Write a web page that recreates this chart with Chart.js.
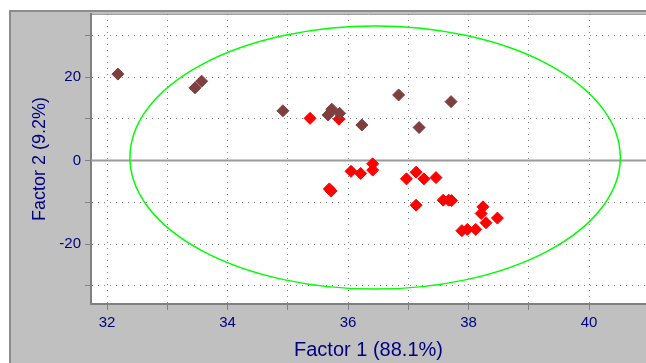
<!DOCTYPE html>
<html>
<head>
<meta charset="utf-8">
<script src="https://cdn.jsdelivr.net/npm/chart.js@4/dist/chart.umd.min.js"></script>
<style>
  html, body { margin: 0; padding: 0; background: #fff; }
  canvas { display: block; }
</style>
</head>
<body>
<canvas id="scores" width="646" height="363"></canvas>
<script>
// scores
const brownFactor1 = [32.18, 33.46, 33.57, 34.92, 35.67, 35.73, 35.86, 36.23, 36.84, 37.18, 37.71];
const brownFactor2 = [20.7, 17.4, 19.0, 11.9, 10.9, 12.3, 11.3, 8.5, 15.7, 7.9, 14.1];

const redFactor1 = [35.37, 35.85, 36.05, 36.21, 36.41, 36.41, 35.69, 35.72, 36.97, 37.13, 37.26, 37.46,
  37.13, 37.58, 37.67, 37.72, 38.24, 38.21, 38.29, 38.48, 37.89, 37.98, 38.12];
const redFactor2 = [10.1, 9.9, -2.6, -3.1, -0.8, -2.3, -6.8, -7.3, -4.4, -2.8, -4.4, -4.1,
  -10.7, -9.5, -9.5, -9.6, -11.1, -12.7, -14.9, -13.8, -16.8, -16.5, -16.5];

// confidence ellipse: centre and half axes in data units
const ellipseCenter = [36.45, 0.7];
const ellipseRadius = [4.07, 31.5];

const xTitle = "Factor 1 (88.1%)";
const yTitle = "Factor 2 (9.2%)";

const navy = "#000080";
const fontFamily = "'Liberation Sans', Arial, sans-serif";

function toPoints(xs, ys) {
  return xs.map((x, i) => ({ x: x, y: ys[i] }));
}

const framePlugin = {
  id: "frame",
  beforeDraw(chart) {
    const ctx = chart.ctx;
    const a = chart.chartArea;
    ctx.save();
    ctx.fillStyle = "#ffffff";
    ctx.fillRect(0, 0, chart.width, chart.height);
    ctx.fillStyle = "#c0c0c0";
    ctx.fillRect(10, 11, chart.width - 10, chart.height - 11);
    ctx.strokeStyle = "#8c8c8c";
    ctx.lineWidth = 2;
    ctx.beginPath();
    ctx.moveTo(10, chart.height);
    ctx.lineTo(10, 11);
    ctx.lineTo(chart.width, 11);
    ctx.stroke();
    ctx.fillStyle = "#ffffff";
    ctx.fillRect(a.left, a.top, a.right - a.left, a.bottom - a.top);
    ctx.strokeStyle = "#a0a0a0";
    ctx.lineWidth = 1;
    ctx.beginPath();
    ctx.moveTo(a.left, a.top + 0.5);
    ctx.lineTo(a.right, a.top + 0.5);
    ctx.stroke();
    ctx.restore();
  },
  beforeDatasetsDraw(chart) {
    const ctx = chart.ctx;
    const a = chart.chartArea;
    const xs = chart.scales.x;
    const ys = chart.scales.y;
    ctx.save();
    ctx.beginPath();
    ctx.rect(a.left, a.top, a.right - a.left, a.bottom - a.top);
    ctx.clip();

    // zero line
    const y0 = ys.getPixelForValue(0);
    ctx.strokeStyle = "#9a9a9a";
    ctx.lineWidth = 2;
    ctx.beginPath();
    ctx.moveTo(a.left, y0);
    ctx.lineTo(a.right, y0);
    ctx.stroke();

    // ellipse
    const cx = xs.getPixelForValue(ellipseCenter[0]);
    const cy = ys.getPixelForValue(ellipseCenter[1]);
    const rx = xs.getPixelForValue(ellipseCenter[0] + ellipseRadius[0]) - cx;
    const ry = cy - ys.getPixelForValue(ellipseCenter[1] + ellipseRadius[1]);
    ctx.strokeStyle = "#00ff00";
    ctx.lineWidth = 1.5;
    ctx.beginPath();
    ctx.ellipse(cx, cy, rx, ry, 0, 0, Math.PI * 2);
    ctx.stroke();
    ctx.restore();
  },
};

new Chart(document.getElementById("scores"), {
  type: "scatter",
  data: {
    datasets: [
      {
        data: toPoints(brownFactor1, brownFactor2),
        pointStyle: "rectRot",
        radius: 6,
        backgroundColor: "#7f3f3f",
        borderColor: "#7f3f3f",
        borderWidth: 1,
      },
      {
        data: toPoints(redFactor1, redFactor2),
        pointStyle: "rectRot",
        radius: 6,
        backgroundColor: "#ff0000",
        borderColor: "#ff0000",
        borderWidth: 1,
      },
    ],
  },
  options: {
    responsive: false,
    animation: false,
    layout: { autoPadding: false, padding: { top: 14, left: 0, right: 0, bottom: 0 } },
    plugins: {
      legend: { display: false },
      tooltip: { enabled: false },
    },
    scales: {
      x: {
        type: "linear",
        min: 31.734,
        max: 40.946,
        afterFit(scale) {
          scale.height = 59;
          scale.paddingLeft = 0;
          scale.paddingRight = 0;
        },
        ticks: {
          stepSize: 1,
          includeBounds: false,
          autoSkip: false,
          maxRotation: 0,
          padding: 4,
          color: navy,
          font: { family: fontFamily, size: 15 },
          callback: (v) => (v % 2 === 0 ? v : ""),
        },
        grid: {
          color: "#808080",
          borderDash: [1, 5],
          tickLength: 6,
          tickColor: "#808080",
          tickWidth: 1,
          tickBorderDash: [],
        },
        border: { color: "#808080", width: 2, dash: [1, 5] },
        title: {
          display: true,
          text: xTitle,
          color: navy,
          font: { family: fontFamily, size: 20 },
          padding: { top: 0, bottom: 1 },
        },
      },
      y: {
        type: "linear",
        min: -34.37,
        max: 35.09,
        afterFit(scale) {
          scale.width = 91;
          scale.paddingTop = 0;
          scale.paddingBottom = 0;
        },
        ticks: {
          stepSize: 10,
          includeBounds: false,
          autoSkip: false,
          padding: 4,
          color: navy,
          font: { family: fontFamily, size: 15 },
          callback: (v) => (v % 20 === 0 ? v : ""),
        },
        grid: {
          color: "#808080",
          borderDash: [1, 5],
          tickLength: 6,
          tickColor: "#808080",
          tickWidth: 1,
          tickBorderDash: [],
        },
        border: { color: "#808080", width: 2, dash: [1, 5] },
        title: {
          display: true,
          text: yTitle,
          color: navy,
          font: { family: fontFamily, size: 18 },
          padding: { top: 29, bottom: 0 },
        },
      },
    },
  },
  plugins: [framePlugin],
});
</script>
</body>
</html>
